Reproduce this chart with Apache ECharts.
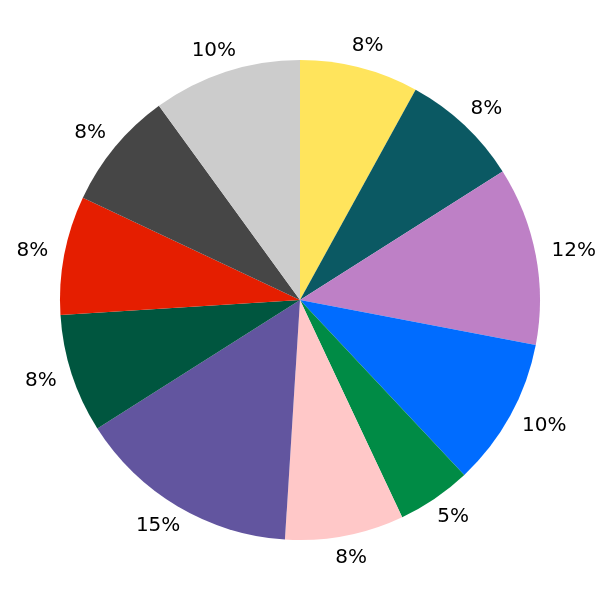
<!DOCTYPE html>
<html>
<head>
<meta charset="utf-8">
<script src="https://cdn.jsdelivr.net/npm/echarts@6/dist/echarts.min.js"></script>
<style>html,body{margin:0;padding:0;background:#fff}#c{width:600px;height:600px}</style>
</head>
<body>
<div id="c"></div>
<script>
const categories = ['A','B','C','D','E','F','G','H','I','J','K'];
const values = [8, 8, 12, 10, 5, 8, 15, 8, 8, 8, 10];
const colors = ['#FFE45C','#0B5963','#BE80C6','#006CFF','#008B45','#FFC8C8','#62559F','#00563F','#E51E00','#464646','#CCCCCC'];

const total = values.reduce((a,b)=>a+b,0);
const data = categories.map((c,i)=>({name:c, value:values[i], itemStyle:{color:colors[i]}}));
const chart = echarts.init(document.getElementById('c'), null, {renderer:'canvas'});
chart.setOption({
  animation:false,
  backgroundColor:'#ffffff',
  series:[{
    type:'pie',
    center:[300,300],
    radius:[0,240],
    startAngle:90,
    clockwise:true,
    avoidLabelOverlap:false,
    silent:true,
    data:data,
    itemStyle:{borderWidth:0},
    label:{
      show:true,
      position:'outside',
      formatter:p=>Math.round(p.value/total*100)+'%',
      fontFamily:'DejaVu Sans',
      fontSize:20,
      color:'#000',
      distanceToLabelLine:0
    },
    labelLine:{show:true,length:16.5,length2:0,lineStyle:{opacity:0,width:0}},
    labelLayout:function(params){
      const pts = params.labelLinePoints;
      if(!pts || pts.length < 2) return {};
      const dx = pts[1][0]-pts[0][0], dy = pts[1][1]-pts[0][1];
      const len = Math.hypot(dx,dy) || 1;
      const ux = dx/len, uy = dy/len;
      return {
        x: pts[1][0] + ux*params.labelRect.width/2,
        y: pts[1][1] + uy*5.5,
        align:'center',
        verticalAlign:'middle'
      };
    }
  }]
});
</script>
</body>
</html>
